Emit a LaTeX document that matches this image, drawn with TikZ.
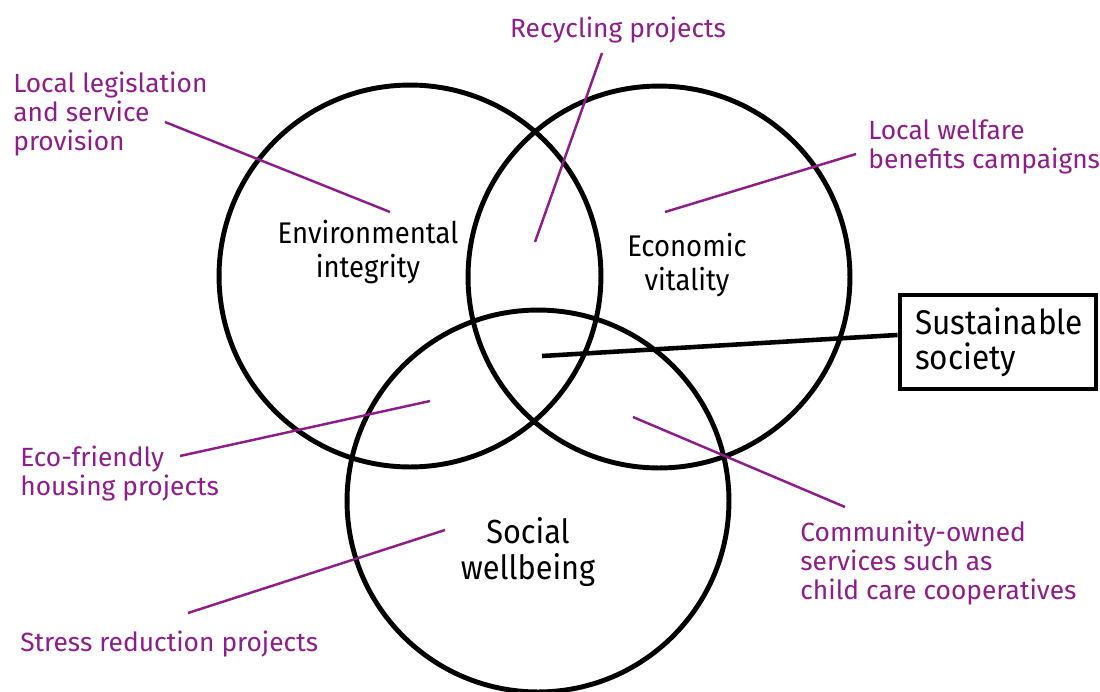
\documentclass[tikz,border=0pt]{standalone}
\usepackage{fontspec}
\setmainfont{Fira Sans}
\newfontfamily\titlefont{Fira Sans}[FakeStretch=0.92]
\usepackage{xcolor}
\usetikzlibrary{positioning,calc}
\definecolor{plum}{RGB}{142,28,138}

\begin{document}
\begin{tikzpicture}[
    x=0.02cm, y=-0.02cm,
    ring/.style={circle, draw, line width=2.8pt, minimum size=7.64cm, inner sep=0pt},
    theme/.style={align=center, inner sep=0pt, font=\titlefont\fontsize{17}{19}\selectfont},
    note/.style={align=left, text=plum, inner sep=0pt, font=\fontsize{15}{16.5}\selectfont},
    leader/.style={plum, line width=1.4pt},
    boxed/.style={rectangle, draw, line width=2.8pt, minimum width=3.92cm, minimum height=1.88cm, inner xsep=0.3cm, text width=3.32cm, align=left, font=\titlefont\fontsize{19.5}{20}\selectfont}
]
    \useasboundingbox (0,0) rectangle (1100,691);

    % Circles
    \node[ring] (env) at (410,276) {};
    \node[ring] (econ) at (659,277) {};
    \node[ring] (social) at (538,501) {};

    % Circle titles
    \node[theme] (envtext) at (368,252) {Environmental\\integrity};
    \node[theme] (econtext) at (687,265) {Economic\\vitality};
    \node[theme, font=\titlefont\fontsize{19}{21}\selectfont] (socialtext) at (528,552) {Social\\wellbeing};

    % Sustainable society
    \node[boxed] (sust) at (998,342) {Sustainable\\society};
    \coordinate (hub) at (542,356);
    \draw[line width=2.6pt] (hub) -- (sust.176);

    % Labels
    \node[note, anchor=west] (legis) at (13,114) {Local legislation\\and service\\provision};
    \node[note] (recyc) at (618,30) {Recycling projects};
    \node[note, anchor=west] (welfare) at (868,147) {Local welfare\\benefits campaigns};
    \node[note, anchor=west] (eco) at (20,474) {Eco-friendly\\housing projects};
    \node[note, anchor=west] (stress) at (20,644) {Stress reduction projects};
    \node[note, anchor=west] (commun) at (800,563) {Community-owned\\services such as\\child care cooperatives};

    % Leader ends
    \coordinate (legisA) at (165,122);
    \coordinate (legisB) at (390,212);
    \coordinate (recycA) at (602,53);
    \coordinate (recycB) at (535,242);
    \coordinate (welfareA) at (856,154);
    \coordinate (welfareB) at (665,212);
    \coordinate (ecoA) at (180,456);
    \coordinate (ecoB) at (430,401);
    \coordinate (stressA) at (188,613);
    \coordinate (stressB) at (445,530);
    \coordinate (communA) at (845,507);
    \coordinate (communB) at (633,417);

    % Leaders
    \draw[leader] (legisA) -- (legisB);
    \draw[leader] (recycA) -- (recycB);
    \draw[leader] (welfareA) -- (welfareB);
    \draw[leader] (ecoA) -- (ecoB);
    \draw[leader] (stressA) -- (stressB);
    \draw[leader] (communA) -- (communB);
\end{tikzpicture}
\end{document}
